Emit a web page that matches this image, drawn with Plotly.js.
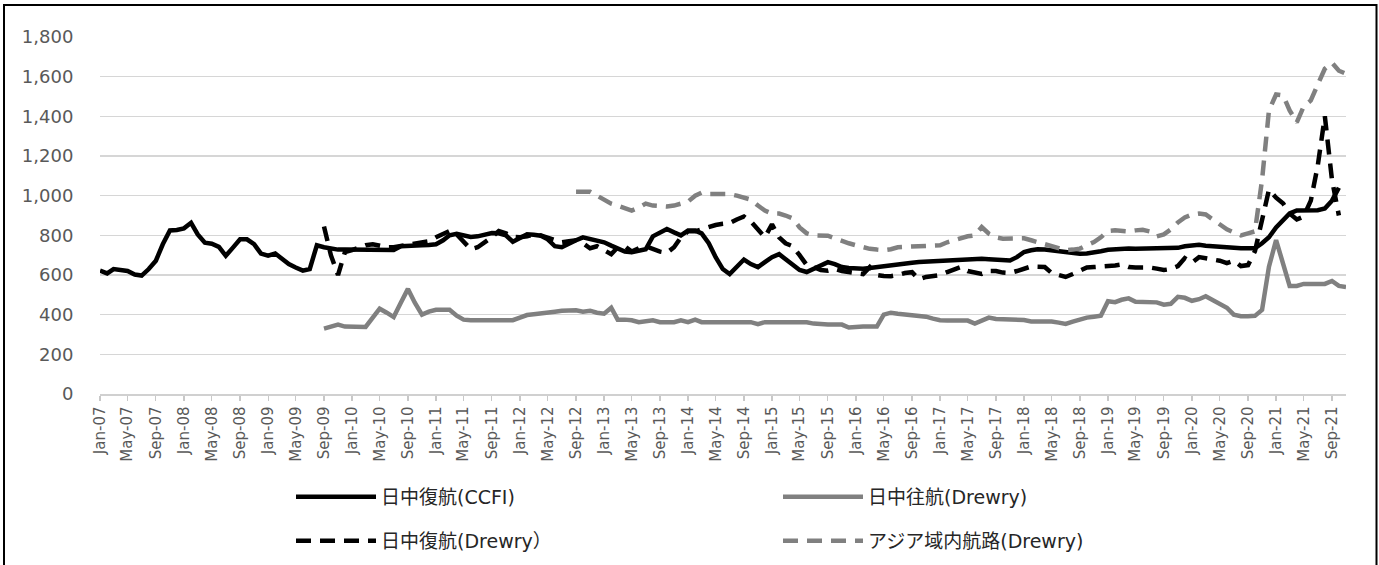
<!DOCTYPE html>
<html>
<head>
<meta charset="utf-8">
<script src="https://cdn.plot.ly/plotly-3.0.1.min.js"></script>
<style>html,body{margin:0;padding:0;background:#fff;}#chart{width:1379px;height:565px;}</style>
</head>
<body>
<div id="chart"></div>
<script>
// Monthly series Jan-07 .. Nov-21
const startYear = 2007, monthCount = 179;

const ccfi = [
 622,608,630,622,620,602,597,630,672,755,825,827,
 835,863,805,763,758,742,697,738,780,780,755,708,
 697,708,680,655,638,622,630,750,740,732,728,728,
 728,728,726,726,728,728,726,745,748,750,750,751,
 755,775,800,808,800,792,795,805,812,810,800,768,
 785,805,803,798,780,745,740,760,775,790,782,775,
 765,748,735,718,715,722,730,795,815,832,815,800,
 824,824,810,760,690,630,605,640,678,655,640,665,
 690,705,680,655,625,615,631,645,665,655,640,635,
 632,631,635,640,645,650,657,660,662,665,667,668,
 670,673,677,679,680,682,682,680,677,676,673,690,
 716,725,730,728,724,720,715,710,707,708,712,720,
 727,730,735,733,732,732,733,733,733,735,737,745,
 750,752,748,745,742,738,735,735,735,735,760,790,
 840,880,910,925,925,927,927,935,975,1040,null
];

const outboundDrewry = [
 null,null,null,null,null,null,null,null,null,null,null,null,
 null,null,null,null,null,null,null,null,null,null,null,null,
 null,null,null,null,null,null,null,null,330,340,350,340,
 338,338,338,385,430,410,388,460,530,460,400,415,
 425,425,425,395,375,372,372,372,372,372,372,372,
 385,398,402,405,410,415,420,422,422,415,420,410,
 405,435,375,375,372,362,365,372,362,362,362,372,
 362,375,362,362,362,362,362,362,362,362,352,362,
 362,362,362,362,362,362,355,350,350,350,350,335,
 340,340,340,340,400,410,405,402,400,395,390,380,
 372,370,370,370,370,355,370,385,378,378,378,375,
 373,366,366,366,366,360,353,365,378,385,390,395,
 468,463,475,482,465,463,463,462,450,455,490,485,
 470,478,493,475,452,435,400,392,392,394,424,642,
 776,659,545,545,555,555,555,555,570,545,540
];

const returnDrewry = [
 null,null,null,null,null,null,null,null,null,null,null,null,
 null,null,null,null,null,null,null,null,null,null,null,null,
 null,null,null,null,null,null,null,null,845,700,600,715,
 725,740,750,755,745,740,740,745,750,755,760,770,
 790,810,822,805,770,730,740,765,790,822,810,792,
 790,795,805,800,790,775,765,770,775,760,735,745,
 725,705,740,745,718,735,745,730,718,712,740,790,
 820,820,830,845,852,858,862,880,895,870,830,790,
 855,790,760,745,700,650,640,625,622,630,620,615,
 608,605,640,600,595,594,600,610,614,578,590,596,
 600,615,625,640,620,610,605,620,620,612,610,620,
 630,643,642,640,610,600,590,605,625,638,640,642,
 643,648,653,640,638,640,638,632,625,630,645,685,
 662,690,685,675,672,660,672,645,650,720,880,1030,
 990,960,910,880,895,975,1150,1400,1080,900,null
];

const intraAsia = [
 null,null,null,null,null,null,null,null,null,null,null,null,
 null,null,null,null,null,null,null,null,null,null,null,null,
 null,null,null,null,null,null,null,null,null,null,null,null,
 null,null,null,null,null,null,null,null,null,null,null,null,
 null,null,null,null,null,null,null,null,null,null,null,null,
 null,null,null,null,null,null,null,null,1020,1020,1020,1000,
 980,960,950,935,925,940,960,950,945,945,950,960,
 970,1000,1015,1008,1008,1008,1008,1000,990,980,950,925,
 910,910,900,885,840,810,800,798,798,785,770,760,
 750,740,732,728,725,730,740,742,744,744,744,745,
 750,765,775,783,795,800,842,808,790,783,783,783,
 785,775,765,755,742,735,725,728,733,750,766,790,
 822,825,822,820,825,828,820,795,805,830,865,890,
 905,910,905,880,860,830,815,800,810,820,1080,1430,
 1510,1505,1430,1370,1450,1480,1560,1640,1670,1630,1615
];

const seriesNames = ['日中復航(CCFI)', '日中往航(Drewry)', '日中復航(Drewry）', 'アジア域内航路(Drewry)'];
const yTicks = [0, 200, 400, 600, 800, 1000, 1200, 1400, 1600, 1800];

// month axis
const months = [];
for (let i = 0; i < monthCount; i++) {
  const y = startYear + Math.floor(i / 12);
  const m = (i % 12) + 1;
  months.push(y + '-' + (m < 10 ? '0' + m : m) + '-01');
}

const traces = [
  {x: months, y: ccfi, name: seriesNames[0], mode: 'lines', legend: 'legend',
   line: {color: '#000000', width: 4.5}},
  {x: months, y: outboundDrewry, name: seriesNames[1], mode: 'lines', legend: 'legend',
   line: {color: '#808080', width: 4.5}},
  {x: months, y: returnDrewry, name: seriesNames[2], mode: 'lines', legend: 'legend2',
   line: {color: '#000000', width: 4.5, dash: '15px,9px'}},
  {x: months, y: intraAsia, name: seriesNames[3], mode: 'lines', legend: 'legend2',
   line: {color: '#808080', width: 4.5, dash: '15px,9px'}}
];

const W = 1379, H = 565, L = 100, R = 33, T = 37, B = 171;
const pw = W - L - R, ph = H - T - B;
const px = v => (v - L) / pw;
const py = v => (H - B - v) / ph;
const cy = v => 1 - v / H;

const legFont = {family: 'DejaVu Sans, Noto Sans CJK JP, sans-serif', size: 19, color: '#262626'};

const layout = {
  width: W, height: H,
  margin: {l: L, r: R, t: T, b: B},
  paper_bgcolor: '#ffffff', plot_bgcolor: '#ffffff',
  showlegend: true,
  xaxis: {
    type: 'date',
    range: [months[0], months[monthCount - 1]],
    tick0: months[0], dtick: 'M4', tickformat: '%b-%y',
    tickangle: -90,
    tickfont: {family: 'DejaVu Sans, sans-serif', size: 15, color: '#595959'},
    showgrid: false,
    showline: true, linecolor: '#d0d0d0', linewidth: 1.5,
    ticks: 'outside', ticklen: 5, tickcolor: '#c8c8c8', tickwidth: 1.2,
    fixedrange: true
  },
  yaxis: {
    range: [0, 1800],
    tickvals: yTicks, tickformat: ',d',
    tickfont: {family: 'DejaVu Sans, sans-serif', size: 18, color: '#595959'},
    showgrid: true, gridcolor: '#d6d6d6', gridwidth: 1.5,
    zeroline: false, showline: false,
    ticks: 'outside', ticklen: 22, tickcolor: 'rgba(0,0,0,0)',
    fixedrange: true
  },
  legend: {
    orientation: 'h', xref: 'paper', x: px(291), xanchor: 'left',
    yref: 'container', y: cy(497), yanchor: 'middle',
    font: legFont, itemwidth: 80, entrywidth: 392, bgcolor: 'rgba(0,0,0,0)',
    traceorder: 'normal'
  },
  legend2: {
    orientation: 'h', xref: 'paper', x: px(291), xanchor: 'left',
    yref: 'container', y: cy(541), yanchor: 'middle',
    font: legFont, itemwidth: 80, entrywidth: 392, bgcolor: 'rgba(0,0,0,0)',
    traceorder: 'normal'
  },
  shapes: [
    {type: 'rect', xref: 'paper', yref: 'paper',
     x0: px(4), x1: px(1376.5), y0: py(5), y1: py(620),
     line: {color: '#000000', width: 2}, fillcolor: 'rgba(0,0,0,0)', layer: 'above'}
  ]
};

Plotly.newPlot('chart', traces, layout, {displayModeBar: false, staticPlot: true});
</script>
</body>
</html>
